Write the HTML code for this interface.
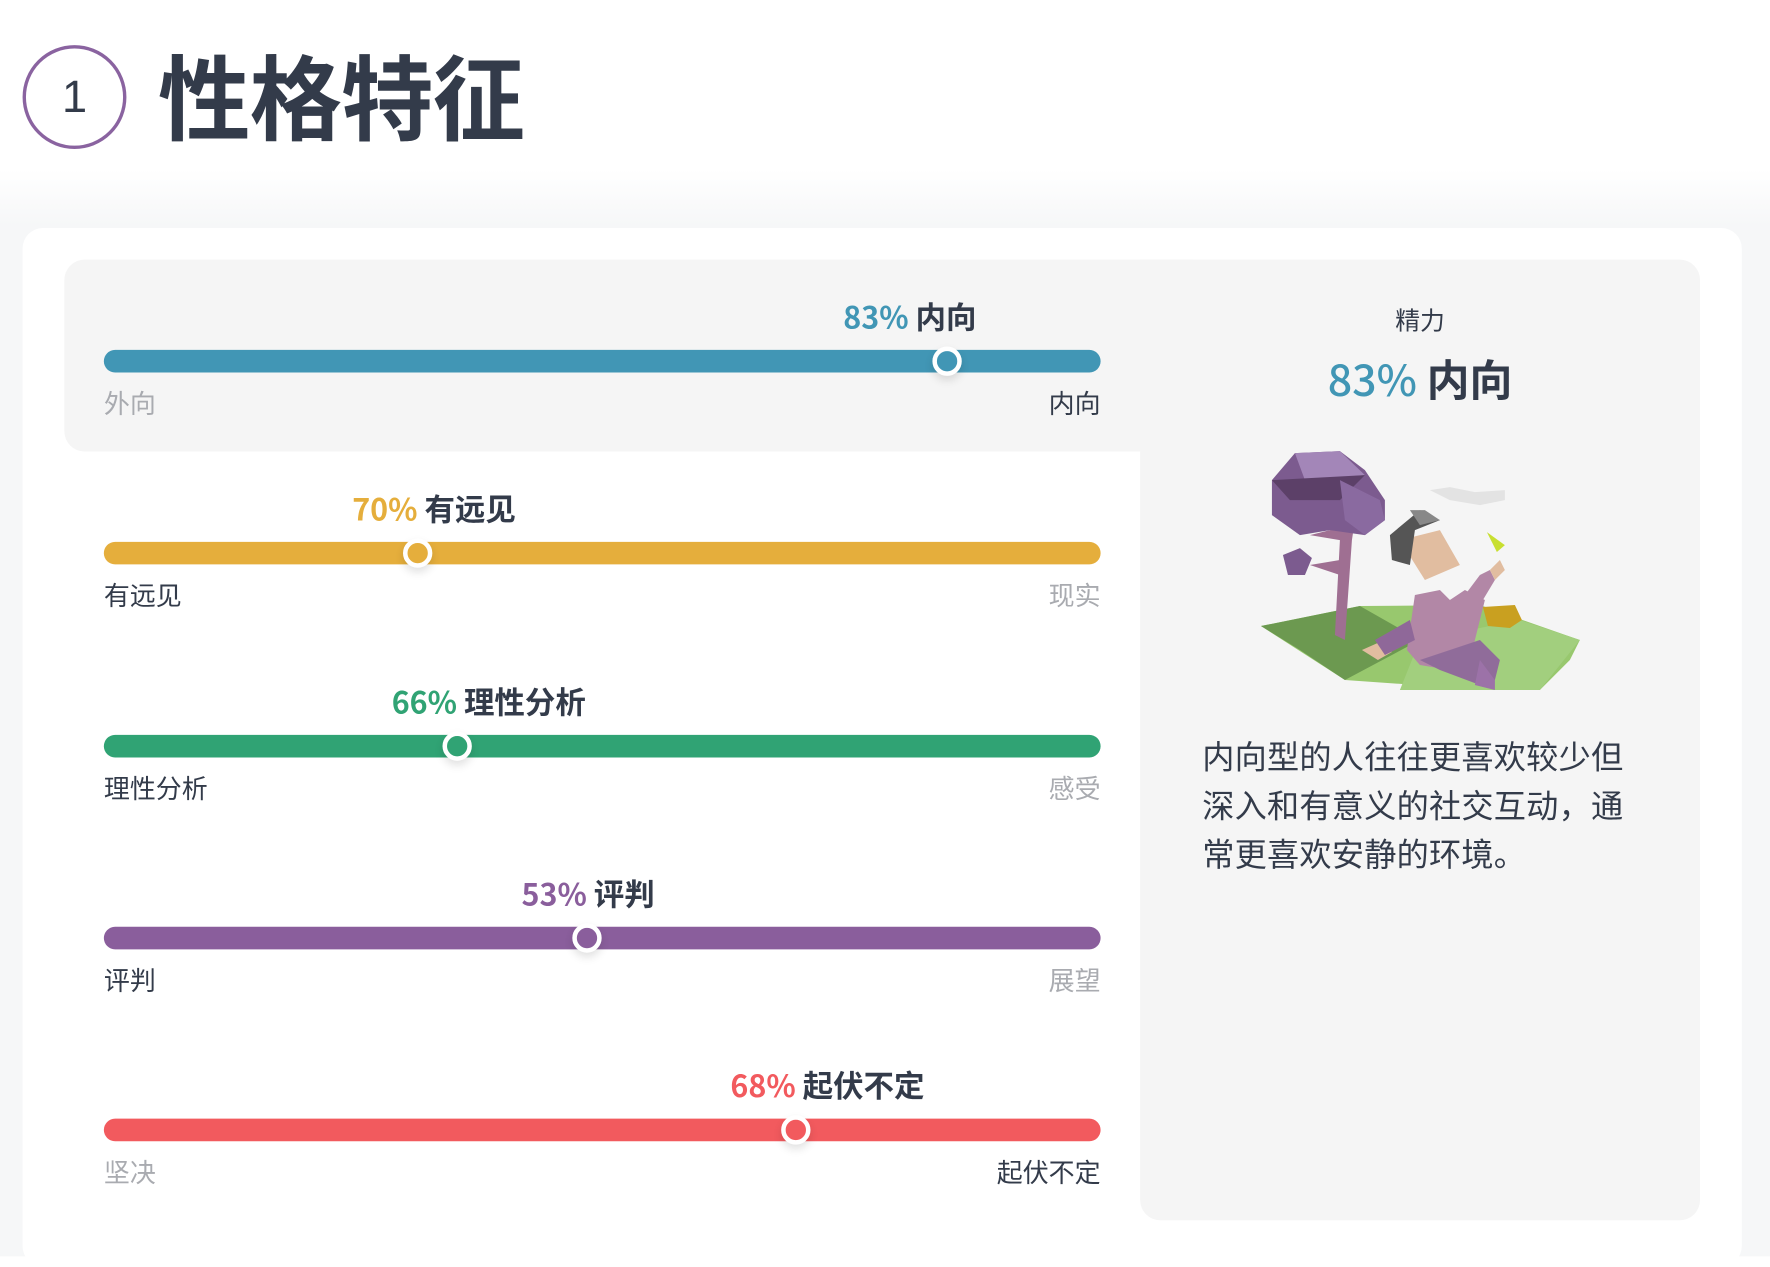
<!DOCTYPE html>
<html><head><meta charset="utf-8"><style>
html,body{margin:0;padding:0;background:#fff;width:1770px;height:1256px;overflow:hidden}
#s{position:absolute;left:0;top:0;width:1568px;height:1113px;transform:scale(1.12883);transform-origin:0 0;font-family:"Noto Sans CJK SC","Liberation Sans",sans-serif;color:#333b4a;background:linear-gradient(#fff 0,#fff 150px,#f6f7f8 200px,#f6f7f8 100%)}
.a{position:absolute;white-space:nowrap}
.bar{position:absolute;left:92px;width:883px;height:20px;border-radius:10px}
.knob{position:absolute;width:18px;height:18px;border:4px solid #fff;border-radius:50%;box-shadow:0 4px 8px rgba(0,0,0,.12)}
.lab{font-size:27px;font-weight:700;line-height:1}
.sm{font-size:23px;line-height:1}
.r{right:593px;text-align:right}
.g{color:#a9abb0}
</style></head><body><div id="s">
<div class="a" style="left:20px;top:40px;width:86px;height:86px;border:3px solid #8a63a0;border-radius:50%;text-align:center;line-height:86px;font-size:40px;font-family:'Liberation Sans',sans-serif">1</div>
<div class="a" style="left:140px;top:38px;font-size:82px;font-weight:700;line-height:1.1;letter-spacing:-1px;color:#333b4a">性格特征</div>
<div class="a" style="left:20px;top:202px;width:1523px;height:920px;background:#fff;border-radius:18px"></div>
<div class="a" style="left:57px;top:230px;width:1000px;height:170px;background:#f5f5f5;border-radius:18px 0 0 18px"></div>
<div class="a" style="left:1010px;top:230px;width:496px;height:851px;background:#f5f5f5;border-radius:0 18px 18px 18px"></div>

<div class="a lab" style="left:747px;top:266px"><span style="color:#4196b5">83%</span> 内向</div>
<div class="bar" style="top:310px;background:#4196b5"></div>
<div class="knob" style="left:826px;top:307px;background:#4196b5"></div>
<div class="a sm g" style="left:92px;top:345px">外向</div>
<div class="a sm r" style="top:345px">内向</div>

<div class="a lab" style="left:312px;top:436px"><span style="color:#e5ae3c">70%</span> 有远见</div>
<div class="bar" style="top:480px;background:#e5ae3c"></div>
<div class="knob" style="left:357px;top:477px;background:#e5ae3c"></div>
<div class="a sm" style="left:92px;top:515px">有远见</div>
<div class="a sm g r" style="top:515px">现实</div>

<div class="a lab" style="left:347px;top:607px"><span style="color:#30a374">66%</span> 理性分析</div>
<div class="bar" style="top:651px;background:#30a374"></div>
<div class="knob" style="left:392px;top:648px;background:#30a374"></div>
<div class="a sm" style="left:92px;top:686px">理性分析</div>
<div class="a sm g r" style="top:686px">感受</div>

<div class="a lab" style="left:462px;top:777px"><span style="color:#8a5e9c">53%</span> 评判</div>
<div class="bar" style="top:821px;background:#8a5e9c"></div>
<div class="knob" style="left:507px;top:818px;background:#8a5e9c"></div>
<div class="a sm" style="left:92px;top:856px">评判</div>
<div class="a sm g r" style="top:856px">展望</div>

<div class="a lab" style="left:647px;top:947px"><span style="color:#f25a5e">68%</span> 起伏不定</div>
<div class="bar" style="top:991px;background:#f25a5e"></div>
<div class="knob" style="left:692px;top:988px;background:#f25a5e"></div>
<div class="a sm g" style="left:92px;top:1026px">坚决</div>
<div class="a sm r" style="top:1026px">起伏不定</div>

<div class="a" style="left:1010px;width:496px;top:272px;text-align:center;font-size:22px;line-height:1">精力</div>
<div class="a" style="left:1010px;width:496px;top:316px;text-align:center;font-size:38px;font-weight:700;line-height:1"><span style="color:#4196b5;font-weight:500">83%</span> 内向</div>

<svg class="a" style="left:1063px;top:372px" width="372" height="266" viewBox="1200 420 420 300">
<polygon points="1261,626 1360,606 1480,605 1580,640 1570,660 1540,690 1490,690 1345,680" fill="#98c86e"/>
<polygon points="1261,626 1360,606 1420,640 1345,680 1300,650" fill="#6c9950"/>
<polygon points="1420,640 1520,620 1580,640 1540,690 1490,690 1400,690" fill="#a2cf7e"/>
<polygon points="1310,535 1340,540 1335,635 1345,640 1352,540 1355,520 1350,525" fill="#9f6f92"/>
<polygon points="1310,565 1340,560 1340,575" fill="#9f6f92"/>
<polygon points="1272,480 1295,453 1340,451 1365,470 1385,500 1385,520 1365,535 1330,530 1300,535 1272,515" fill="#7c5b8f"/>
<polygon points="1295,453 1340,451 1365,475 1305,480" fill="#a386b8"/>
<polygon points="1272,480 1365,475 1340,500 1290,500" fill="#5c4068"/>
<polygon points="1340,480 1380,500 1385,520 1365,535 1345,520" fill="#8a6aa0"/>
<polygon points="1283,555 1300,548 1312,558 1305,575 1288,575" fill="#7c5b8f"/>
<polygon points="1415,595 1440,590 1450,600 1465,590 1485,600 1470,660 1450,670 1420,665 1407,650" fill="#b287a6"/>
<polygon points="1420,660 1480,640 1500,660 1495,680 1480,685 1440,670" fill="#906c9a"/>
<polygon points="1480,660 1495,680 1495,690 1475,685" fill="#9c72a8"/>
<polygon points="1362,650 1380,642 1392,652 1378,660" fill="#e1bda0"/>
<polygon points="1375,640 1410,620 1415,640 1385,655" fill="#8f6899"/>
<polygon points="1465,595 1480,575 1490,570 1495,580 1480,605" fill="#b287a6"/>
<polygon points="1490,570 1500,560 1505,570 1495,580" fill="#e1bda0"/>
<polygon points="1400,540 1440,530 1460,565 1425,580" fill="#e1bda0"/>
<polygon points="1390,535 1420,510 1440,520 1415,530 1410,565 1392,560" fill="#555"/>
<polygon points="1410,510 1425,510 1440,520 1420,525" fill="#888"/>
<polygon points="1483,607 1515,605 1522,620 1510,628 1488,626" fill="#c9a020"/>
<polygon points="1430,490 1450,487 1475,492 1505,490 1505,500 1480,505 1450,500" fill="#e3e3e3"/>
<polygon points="1487,532 1505,545 1497,552" fill="#c8df30"/>
</svg>

<div class="a" style="left:1065px;top:648px;font-size:28.5px;letter-spacing:0.2px;line-height:43px;color:#333b4a">内向型的人往往更喜欢较少但<br>深入和有意义的社交互动，通<br>常更喜欢安静的环境。</div>
</div></body></html>
